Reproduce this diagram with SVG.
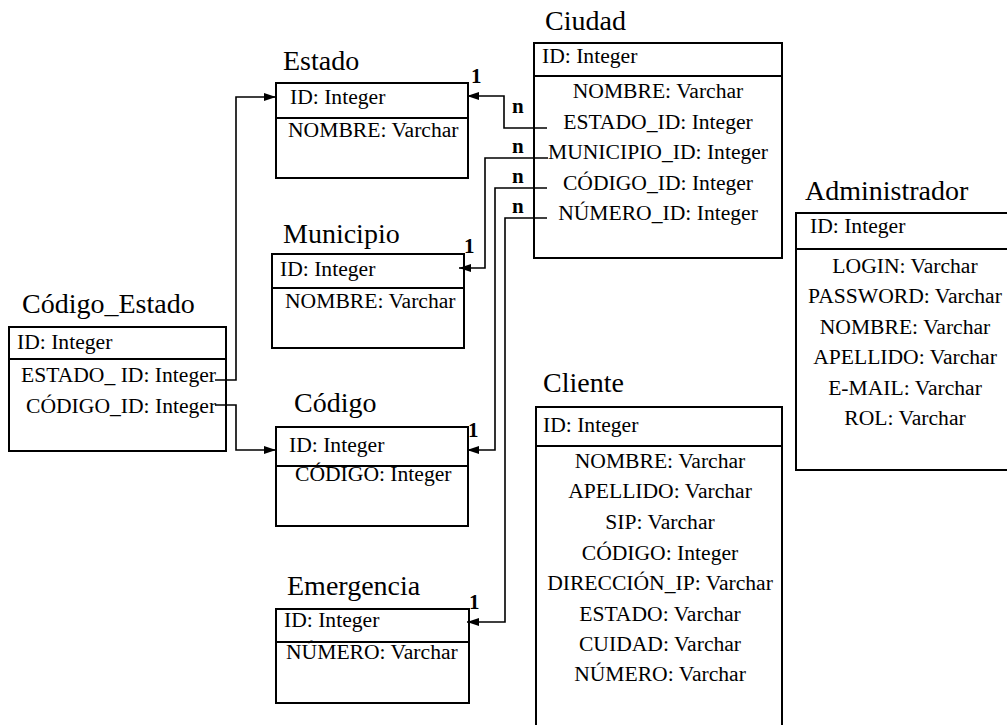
<svg xmlns="http://www.w3.org/2000/svg" width="1007" height="725" viewBox="0 0 1007 725">
<style>
text{fill:#000}
.t{font-size:28px}
.f{font-size:21.6px}
.c{font-size:21.6px;text-anchor:middle}
.m{font-size:21px;font-weight:bold}
.box{fill:#fff;stroke:#000;stroke-width:2}
.div{stroke:#000;stroke-width:2}
.con{fill:none;stroke:#000;stroke-width:1.6}
</style>
<defs>
<marker id="ar" viewBox="0 0 12 8" refX="12" refY="4" markerWidth="12" markerHeight="8" markerUnits="userSpaceOnUse" orient="auto">
<path d="M0,0 L12,4 L0,8 z" fill="#000"/>
</marker>
</defs>
<rect width="1007" height="725" fill="#fff"/>
<g font-family="'Liberation Serif', 'DejaVu Serif', serif">

<g id="estado">
<text class="t" x="283" y="70">Estado</text>
<rect class="box" x="276" y="83" width="192" height="95"/>
<line class="div" x1="276" y1="118" x2="468" y2="118"/>
<text class="f" x="290" y="104">ID: Integer</text>
<text class="f" x="288" y="137">NOMBRE: Varchar</text>
</g>

<g id="ciudad">
<text class="t" x="545" y="30">Ciudad</text>
<rect class="box" x="534" y="43" width="248" height="215"/>
<line class="div" x1="534" y1="76" x2="782" y2="76"/>
<text class="f" x="542" y="63">ID: Integer</text>
<text class="c" x="658" y="98">NOMBRE: Varchar</text>
<text class="c" x="658" y="129">ESTADO_ID: Integer</text>
<text class="c" x="658" y="159">MUNICIPIO_ID: Integer</text>
<text class="c" x="658" y="190">CÓDIGO_ID: Integer</text>
<text class="c" x="658" y="220">NÚMERO_ID: Integer</text>
</g>

<g id="municipio">
<text class="t" x="283" y="243">Municipio</text>
<rect class="box" x="272" y="254" width="192" height="94"/>
<line class="div" x1="272" y1="288" x2="464" y2="288"/>
<text class="f" x="280" y="276">ID: Integer</text>
<text class="f" x="285" y="308">NOMBRE: Varchar</text>
</g>

<g id="codigo_estado">
<text class="t" x="22" y="313">Código_Estado</text>
<rect class="box" x="9" y="327" width="217" height="124"/>
<line class="div" x1="9" y1="359" x2="226" y2="359"/>
<text class="f" x="17" y="349">ID: Integer</text>
<text class="f" x="21" y="382">ESTADO_ ID: Integer</text>
<text class="f" x="26" y="413">CÓDIGO_ID: Integer</text>
</g>

<g id="codigo">
<text class="t" x="294" y="412">Código</text>
<rect class="box" x="276" y="427" width="192" height="99"/>
<line class="div" x1="276" y1="466" x2="468" y2="466"/>
<text class="f" x="289" y="452">ID: Integer</text>
<text class="f" x="295" y="481">CÓDIGO: Integer</text>
</g>

<g id="emergencia">
<text class="t" x="287" y="595">Emergencia</text>
<rect class="box" x="276" y="609" width="193" height="94"/>
<line class="div" x1="276" y1="642" x2="469" y2="642"/>
<text class="f" x="284" y="627">ID: Integer</text>
<text class="f" x="286" y="659">NÚMERO: Varchar</text>
</g>

<g id="administrador">
<text class="t" x="805" y="200">Administrador</text>
<rect class="box" x="796" y="213" width="216" height="257"/>
<line class="div" x1="796" y1="249" x2="1012" y2="249"/>
<text class="f" x="810" y="233">ID: Integer</text>
<text class="c" x="905" y="273">LOGIN: Varchar</text>
<text class="c" x="905" y="303">PASSWORD: Varchar</text>
<text class="c" x="905" y="334">NOMBRE: Varchar</text>
<text class="c" x="905" y="364">APELLIDO: Varchar</text>
<text class="c" x="905" y="395">E-MAIL: Varchar</text>
<text class="c" x="905" y="425">ROL: Varchar</text>
</g>

<g id="cliente">
<text class="t" x="543" y="392">Cliente</text>
<rect class="box" x="536" y="407" width="246" height="330"/>
<line class="div" x1="536" y1="446" x2="782" y2="446"/>
<text class="f" x="543" y="432">ID: Integer</text>
<text class="c" x="660" y="468">NOMBRE: Varchar</text>
<text class="c" x="660" y="498">APELLIDO: Varchar</text>
<text class="c" x="660" y="529">SIP: Varchar</text>
<text class="c" x="660" y="560">CÓDIGO: Integer</text>
<text class="c" x="660" y="590">DIRECCIÓN_IP: Varchar</text>
<text class="c" x="660" y="621">ESTADO: Varchar</text>
<text class="c" x="660" y="651">CUIDAD: Varchar</text>
<text class="c" x="660" y="681">NÚMERO: Varchar</text>
</g>

<g id="connectors">
<path class="con" d="M547,128 H504 V96 H467" marker-end="url(#ar)"/>
<path class="con" d="M548,158 H485 V268 H459" marker-end="url(#ar)"/>
<path class="con" d="M547,188 H495 V450 H467" marker-end="url(#ar)"/>
<path class="con" d="M547,218 H505 V622 H467" marker-end="url(#ar)"/>
<path class="con" d="M215,380 H236 V97 H276" marker-end="url(#ar)"/>
<path class="con" d="M215,405 H236 V450 H276" marker-end="url(#ar)"/>
<text class="m" x="512" y="113">n</text>
<text class="m" x="512" y="153">n</text>
<text class="m" x="512" y="183">n</text>
<text class="m" x="512" y="213">n</text>
<text class="m" x="471" y="83">1</text>
<text class="m" x="464" y="253">1</text>
<text class="m" x="468" y="437">1</text>
<text class="m" x="469" y="609">1</text>
</g>
</g>
</svg>
